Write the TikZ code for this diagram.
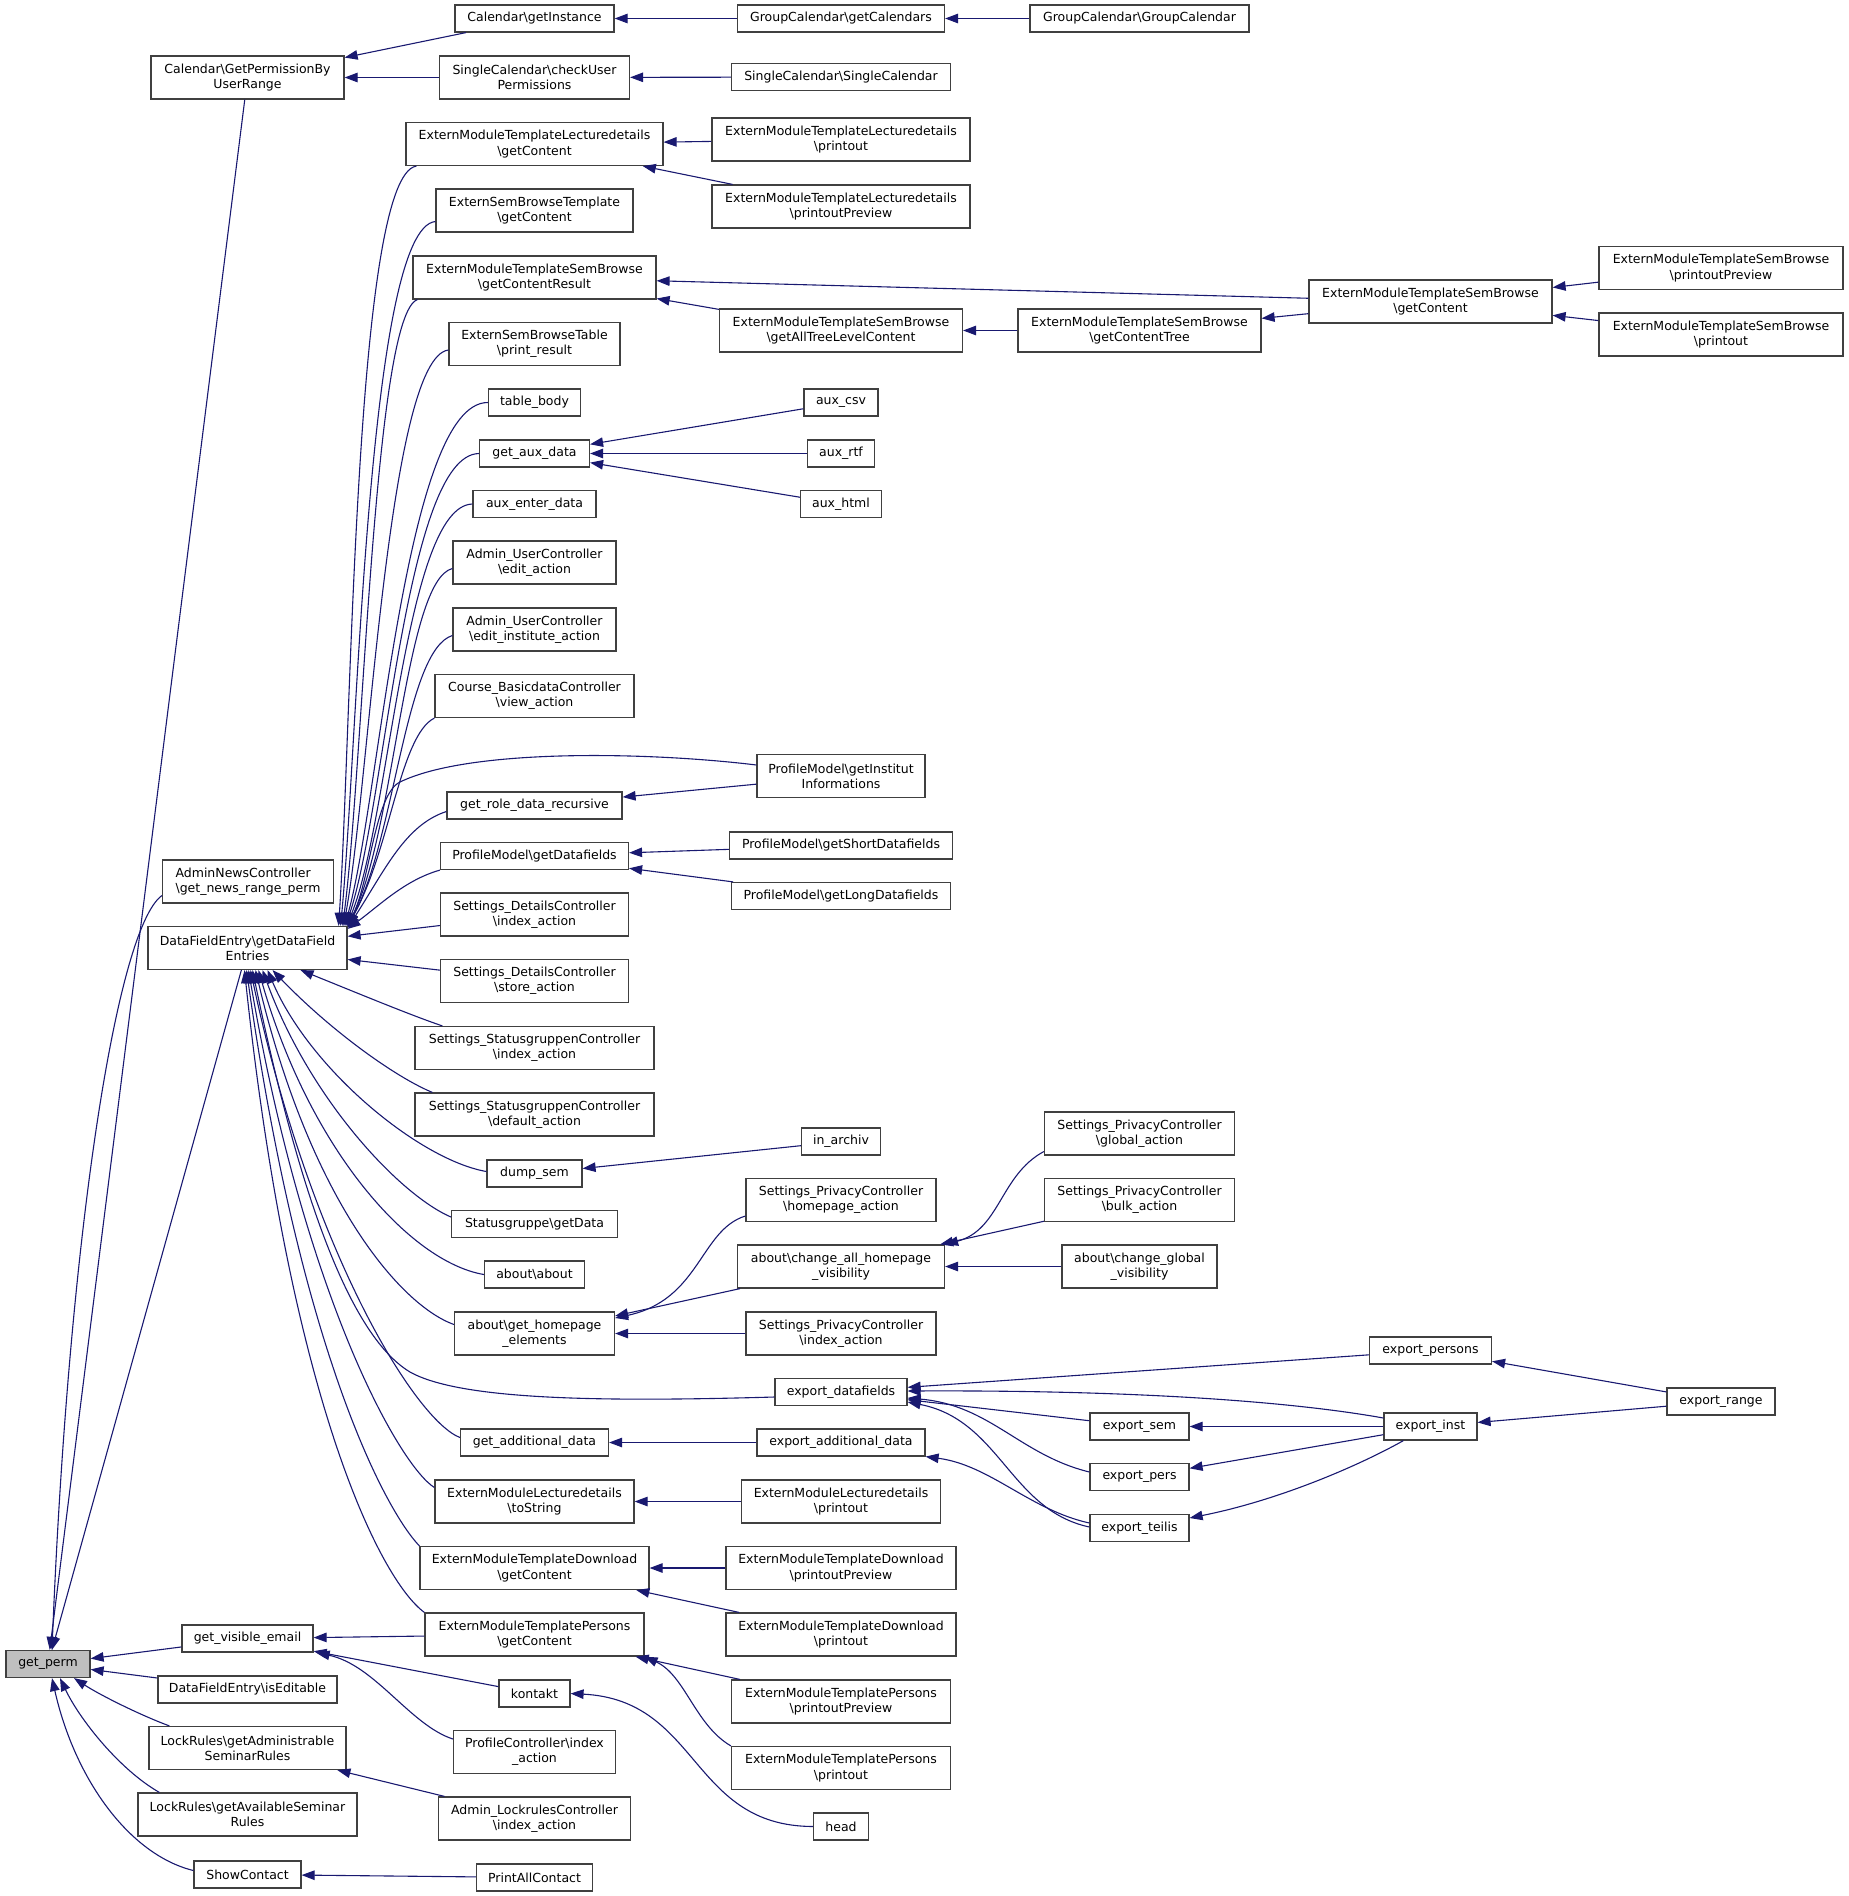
\documentclass[tikz,border=0pt]{standalone}
\usepackage{fontspec}
\setmainfont{DejaVu Sans}
\usetikzlibrary{arrows.meta}

\definecolor{midnight}{HTML}{191970}
\definecolor{rootgray}{HTML}{BFBFBF}

\begin{document}
\begin{tikzpicture}[%
    x=1pt,
    y=-1pt,
    ->,
    >={Triangle[length=13pt,width=9.5pt]},
    link/.style={%
      draw=midnight,
      line width=1.1pt
    },
    every edge/.style={link},
    fn/.style={%
      rectangle,
      draw=black!75,
      fill=white,
      line width=1.2pt,
      inner xsep=2pt,
      inner ysep=1pt,
      minimum height=27pt,
      align=center,
      font=\fontsize{12.5pt}{15.3pt}\selectfont
    },
    fnn/.style={%
      fn,
      minimum height=43pt
    }
  ]
    \useasboundingbox (0,0) rectangle (1848,1896);

    % column 1 and 2
    \node[fn, minimum width=84pt, fill=rootgray] (getperm)      at (48,1664)      {get\_perm};
    \node[fnn, minimum width=193pt] (getpermrange) at (247.5,77.5)  {Calendar\textbackslash{}GetPermissionBy\\UserRange};
    \node[fnn, minimum width=171pt, align=left] (newsrange) at (248,881.5) {AdminNewsController\\\textbackslash{}get\_news\_range\_perm};
    \node[fnn, minimum width=199pt] (dfentries)    at (247.5,948)   {DataFieldEntry\textbackslash{}getDataField\\Entries};
    \node[fn, minimum width=131pt]  (visemail)     at (247.5,1638.5) {get\_visible\_email};
    \node[fn, minimum width=179pt]  (iseditable)   at (247.5,1689.5) {DataFieldEntry\textbackslash{}isEditable};
    \node[fnn, minimum width=197pt] (lockadmin)    at (247.5,1748)  {LockRules\textbackslash{}getAdministrable\\SeminarRules};
    \node[fnn, minimum width=219pt] (lockavail)    at (247.5,1814.5) {LockRules\textbackslash{}getAvailableSeminar\\Rules};
    \node[fn, minimum width=107pt]  (showcontact)  at (247.5,1874.5) {ShowContact};

    % column 3
    \node[fn, minimum width=159pt]  (calinst)    at (534.5,18.5)   {Calendar\textbackslash{}getInstance};
    \node[fnn, minimum width=190pt] (checkperm)  at (534.5,77.5)   {SingleCalendar\textbackslash{}checkUser\\Permissions};
    \node[fnn, minimum width=257pt] (lecgc)      at (534.5,144)    {ExternModuleTemplateLecturedetails\\\textbackslash{}getContent};
    \node[fnn, minimum width=197pt] (sbtgc)      at (534.5,210.5)  {ExternSemBrowseTemplate\\\textbackslash{}getContent};
    \node[fnn, minimum width=243pt] (sbgcr)      at (534.5,277.5)  {ExternModuleTemplateSemBrowse\\\textbackslash{}getContentResult};
    \node[fnn, minimum width=171pt] (sbtprint)   at (534.5,344)    {ExternSemBrowseTable\\\textbackslash{}print\_result};
    \node[fn, minimum width=92pt]   (tablebody)  at (534.5,402.5)  {table\_body};
    \node[fn, minimum width=110pt]  (auxdata)    at (534.5,453.5)  {get\_aux\_data};
    \node[fn, minimum width=123pt]  (auxenter)   at (534.5,504)    {aux\_enter\_data};
    \node[fnn, minimum width=163pt] (ucedit)     at (534.5,562.5)  {Admin\_UserController\\\textbackslash{}edit\_action};
    \node[fnn, minimum width=163pt] (ucinst)     at (534.5,629.5)  {Admin\_UserController\\\textbackslash{}edit\_institute\_action};
    \node[fnn, minimum width=199pt] (cbview)     at (534.5,696)    {Course\_BasicdataController\\\textbackslash{}view\_action};
    \node[fn, minimum width=175pt]  (roledata)   at (534.5,805.5)  {get\_role\_data\_recursive};
    \node[fn, minimum width=188pt]  (pmdata)     at (534.5,856)    {ProfileModel\textbackslash{}getDatafields};
    \node[fnn, minimum width=188pt] (sdindex)    at (534.5,914.5)  {Settings\_DetailsController\\\textbackslash{}index\_action};
    \node[fnn, minimum width=188pt] (sdstore)    at (534.5,981)    {Settings\_DetailsController\\\textbackslash{}store\_action};
    \node[fnn, minimum width=239pt] (sgindex)    at (534.5,1048)   {Settings\_StatusgruppenController\\\textbackslash{}index\_action};
    \node[fnn, minimum width=239pt] (sgdefault)  at (534.5,1114.5) {Settings\_StatusgruppenController\\\textbackslash{}default\_action};
    \node[fn, minimum width=95pt]   (dumpsem)    at (534.5,1173.5) {dump\_sem};
    \node[fn, minimum width=166pt]  (sggetdata)  at (534.5,1224)   {Statusgruppe\textbackslash{}getData};
    \node[fn, minimum width=100pt]  (aboutabout) at (534.5,1274.5) {about\textbackslash{}about};
    \node[fnn, minimum width=160pt] (homeelem)   at (534.5,1333.5) {about\textbackslash{}get\_homepage\\\_elements};
    \node[fn, minimum width=148pt]  (adddata)    at (534.5,1442.5) {get\_additional\_data};
    \node[fnn, minimum width=199pt] (lectostr)   at (534.5,1501.5) {ExternModuleLecturedetails\\\textbackslash{}toString};
    \node[fnn, minimum width=229pt] (dlgc)       at (534.5,1568)   {ExternModuleTemplateDownload\\\textbackslash{}getContent};
    \node[fnn, minimum width=219pt] (persgc)     at (534.5,1634.5) {ExternModuleTemplatePersons\\\textbackslash{}getContent};
    \node[fn, minimum width=71pt]   (kontakt)    at (534.5,1693.5) {kontakt};
    \node[fnn, minimum width=162pt] (pcindex)    at (534.5,1752)   {ProfileController\textbackslash{}index\\\_action};
    \node[fnn, minimum width=192pt] (lrindex)    at (534.5,1818.5) {Admin\_LockrulesController\\\textbackslash{}index\_action};
    \node[fn, minimum width=116pt]  (printall)   at (534.5,1877.5) {PrintAllContact};

    % column 4
    \node[fn, minimum width=207pt]  (getcals)     at (841,18.5)   {GroupCalendar\textbackslash{}getCalendars};
    \node[fn, minimum width=219pt]  (singlecal)   at (841,77)     {SingleCalendar\textbackslash{}SingleCalendar};
    \node[fnn, minimum width=258pt] (lecprint)    at (841,139.5)  {ExternModuleTemplateLecturedetails\\\textbackslash{}printout};
    \node[fnn, minimum width=258pt] (lecpreview)  at (841,206.5)  {ExternModuleTemplateLecturedetails\\\textbackslash{}printoutPreview};
    \node[fnn, minimum width=243pt] (sballtree)   at (841,330.5)  {ExternModuleTemplateSemBrowse\\\textbackslash{}getAllTreeLevelContent};
    \node[fn, minimum width=74pt]   (auxcsv)      at (841,402.5)  {aux\_csv};
    \node[fn, minimum width=67pt]   (auxrtf)      at (841,453.5)  {aux\_rtf};
    \node[fn, minimum width=81pt]   (auxhtml)     at (841,504)    {aux\_html};
    \node[fnn, minimum width=168pt] (pminst)      at (841,776)    {ProfileModel\textbackslash{}getInstitut\\Informations};
    \node[fn, minimum width=223pt]  (pmshort)     at (841,845.5)  {ProfileModel\textbackslash{}getShortDatafields};
    \node[fn, minimum width=219pt]  (pmlong)      at (841,896)    {ProfileModel\textbackslash{}getLongDatafields};
    \node[fn, minimum width=79pt]   (inarchiv)    at (841,1141.5) {in\_archiv};
    \node[fnn, minimum width=190pt] (sphome)      at (841,1200)   {Settings\_PrivacyController\\\textbackslash{}homepage\_action};
    \node[fnn, minimum width=207pt] (chall)       at (841,1266.5) {about\textbackslash{}change\_all\_homepage\\\_visibility};
    \node[fnn, minimum width=190pt] (spindex)     at (841,1333.5) {Settings\_PrivacyController\\\textbackslash{}index\_action};
    \node[fn, minimum width=132pt]  (expdf)       at (841,1392)   {export\_datafields};
    \node[fn, minimum width=168pt]  (expadd)      at (841,1442.5) {export\_additional\_data};
    \node[fnn, minimum width=199pt] (lecprintout) at (841,1501.5) {ExternModuleLecturedetails\\\textbackslash{}printout};
    \node[fnn, minimum width=230pt] (dlpreview)   at (841,1568)   {ExternModuleTemplateDownload\\\textbackslash{}printoutPreview};
    \node[fnn, minimum width=230pt] (dlprint)     at (841,1634.5) {ExternModuleTemplateDownload\\\textbackslash{}printout};
    \node[fnn, minimum width=219pt] (perspreview) at (841,1701.5) {ExternModuleTemplatePersons\\\textbackslash{}printoutPreview};
    \node[fnn, minimum width=219pt] (persprint)   at (841,1768)   {ExternModuleTemplatePersons\\\textbackslash{}printout};
    \node[fn, minimum width=55pt]   (head)        at (841,1826.5) {head};

    % column 5, 6 and 7
    \node[fn, minimum width=219pt]  (groupcal)   at (1139.5,18.5)   {GroupCalendar\textbackslash{}GroupCalendar};
    \node[fnn, minimum width=243pt] (sbtree)     at (1139.5,330.5)  {ExternModuleTemplateSemBrowse\\\textbackslash{}getContentTree};
    \node[fnn, minimum width=190pt] (spglobal)   at (1139.5,1133.5) {Settings\_PrivacyController\\\textbackslash{}global\_action};
    \node[fnn, minimum width=190pt] (spbulk)     at (1139.5,1200)   {Settings\_PrivacyController\\\textbackslash{}bulk\_action};
    \node[fnn, minimum width=155pt] (chglobal)   at (1139.5,1266.5) {about\textbackslash{}change\_global\\\_visibility};
    \node[fn, minimum width=99pt]   (expsem)     at (1139.5,1426.5) {export\_sem};
    \node[fn, minimum width=99pt]   (exppers)    at (1139.5,1477)   {export\_pers};
    \node[fn, minimum width=99pt]   (expteilis)  at (1139.5,1528)   {export\_teilis};
    \node[fnn, minimum width=243pt] (sbgc)       at (1430.5,301.5)  {ExternModuleTemplateSemBrowse\\\textbackslash{}getContent};
    \node[fn, minimum width=122pt]  (exppersons) at (1430.5,1350.5) {export\_persons};
    \node[fn, minimum width=93pt]   (expinst)    at (1430.5,1426.5) {export\_inst};
    \node[fnn, minimum width=244pt] (sbpreview)  at (1721,268)      {ExternModuleTemplateSemBrowse\\\textbackslash{}printoutPreview};
    \node[fnn, minimum width=244pt] (sbprint)    at (1721,334.5)    {ExternModuleTemplateSemBrowse\\\textbackslash{}printout};
    \node[fn, minimum width=108pt]  (exprange)   at (1721,1401.5)   {export\_range};

    % straight calls
    \path (getpermrange) edge (getperm)
          (dfentries)    edge (getperm)
          (visemail)     edge (getperm)
          (iseditable)   edge (getperm)
          (calinst)      edge (getpermrange)
          (checkperm)    edge (getpermrange)
          (getcals)      edge (calinst)
          (groupcal)     edge (getcals)
          (singlecal)    edge (checkperm)
          (lecprint)     edge (lecgc)
          (lecpreview)   edge (lecgc)
          (sbgc)         edge (sbgcr)
          (sballtree)    edge (sbgcr)
          (sbtree)       edge (sballtree)
          (sbgc)         edge (sbtree)
          (sbpreview)    edge (sbgc)
          (sbprint)      edge (sbgc)
          (auxcsv)       edge (auxdata)
          (auxrtf)       edge (auxdata)
          (auxhtml)      edge (auxdata)
          (pminst)       edge (roledata)
          (pmshort)      edge (pmdata)
          (pmlong)       edge (pmdata)
          (sdindex)      edge (dfentries)
          (sdstore)      edge (dfentries)
          (inarchiv)     edge (dumpsem)
          (chall)        edge (homeelem)
          (spindex)      edge (homeelem)
          (spbulk)       edge (chall)
          (chglobal)     edge (chall)
          (exppersons)   edge (expdf)
          (expsem)       edge (expdf)
          (expinst)      edge (expsem)
          (expinst)      edge (exppers)
          (exprange)     edge (exppersons)
          (exprange)     edge (expinst)
          (expadd)       edge (adddata)
          (lecprintout)  edge (lectostr)
          (dlpreview)    edge (dlgc)
          (dlprint)      edge (dlgc)
          (perspreview)  edge (persgc)
          (persgc)       edge (visemail)
          (kontakt)      edge (visemail)
          (lrindex)      edge (lockadmin)
          (printall)     edge (showcontact);

    % curved calls into get_perm
    \draw[link] ([yshift=-14pt]newsrange.west) .. controls (115,930) and (68,1250) .. ([xshift=4pt]getperm.north);
    \draw[link] ([xshift=21pt]lockadmin.north west) .. controls (140,1715) and (100,1695) .. ([xshift=26pt]getperm.south);
    \draw[link] ([xshift=22pt]lockavail.north west) .. controls (120,1770) and (80,1720) .. ([xshift=12pt]getperm.south);
    \draw[link] ([yshift=4pt]showcontact.west) .. controls (130,1855) and (75,1780) .. ([xshift=4pt]getperm.south);

    % curved calls into DataFieldEntry from above
    \draw[link] ([xshift=11pt]lecgc.south west) .. controls (355,175) and (352,720) .. ([xshift=-9pt]dfentries.north east);
    \draw[link] ([yshift=-11pt]sbtgc.west) .. controls (368,228) and (358,740) .. ([xshift=-7pt]dfentries.north east);
    \draw[link] ([xshift=5pt]sbgcr.south west) .. controls (374,315) and (364,760) .. ([xshift=-5pt]dfentries.north east);
    \draw[link] ([yshift=-6pt]sbtprint.west) .. controls (388,358) and (370,780) .. ([xshift=-4pt]dfentries.north east);
    \draw[link] (tablebody.west) .. controls (405,402) and (380,800) .. ([xshift=-3pt]dfentries.north east);
    \draw[link] (auxdata.west) .. controls (405,455) and (386,805) .. ([xshift=-2pt]dfentries.north east);
    \draw[link] (auxenter.west) .. controls (405,506) and (390,820) .. ([xshift=-1pt]dfentries.north east);
    \draw[link] ([yshift=-6pt]ucedit.west) .. controls (405,580) and (395,830) .. (dfentries.north east);
    \draw[link] ([yshift=-6pt]ucinst.west) .. controls (405,650) and (395,840) .. (dfentries.north east);
    \draw[link] (cbview.south west) .. controls (400,735) and (390,850) .. (dfentries.north east);
    \draw[link] ([yshift=11pt]pminst.west) .. controls (650,752) and (470,748) .. (400,782)
                .. controls (375,794) and (370,880) .. (dfentries.north east);
    \draw[link] ([yshift=-6pt]roledata.west) .. controls (405,825) and (385,870) .. ([yshift=-2pt]dfentries.north east);
    \draw[link] (pmdata.south west) .. controls (405,880) and (380,905) .. ([yshift=-3pt]dfentries.north east);

    % curved calls into DataFieldEntry from below
    \draw[link] ([xshift=28pt]sgindex.north west) .. controls (410,1015) and (350,990) .. ([xshift=53pt]dfentries.south);
    \draw[link] ([xshift=18pt]sgdefault.north west) .. controls (395,1077) and (330,1030) .. ([xshift=25pt]dfentries.south);
    \draw[link] ([yshift=2pt]dumpsem.west) .. controls (420,1160) and (310,1070) .. ([xshift=20pt]dfentries.south);
    \draw[link] ([yshift=7pt]sggetdata.west) .. controls (400,1195) and (310,1100) .. ([xshift=15pt]dfentries.south);
    \draw[link] (aboutabout.west) .. controls (410,1262) and (310,1150) .. ([xshift=11pt]dfentries.south);
    \draw[link] ([yshift=9pt]homeelem.west) .. controls (400,1305) and (310,1200) .. ([xshift=8pt]dfentries.south);
    \draw[link] ([yshift=-5pt]expdf.west) .. controls (600,1402) and (460,1400) .. (410,1372)
                .. controls (340,1330) and (290,1150) .. ([xshift=5pt]dfentries.south);
    \draw[link] ([yshift=5pt]adddata.west) .. controls (415,1420) and (310,1250) .. ([xshift=3pt]dfentries.south);
    \draw[link] ([yshift=14pt]lectostr.west) .. controls (400,1466) and (305,1300) .. ([xshift=1pt]dfentries.south);
    \draw[link] (dlgc.north west) .. controls (385,1510) and (300,1350) .. ([xshift=-1pt]dfentries.south);
    \draw[link] (persgc.north west) .. controls (380,1580) and (290,1400) .. ([xshift=-3pt]dfentries.south);

    % other curved calls
    \draw[link] ([yshift=13pt]pcindex.west) .. controls (410,1725) and (375,1665) .. ([xshift=3pt]visemail.south east);
    \draw[link] ([yshift=-16pt]sphome.west) .. controls (700,1230) and (700,1300) .. ([yshift=15.5pt]homeelem.east);
    \draw[link] ([yshift=-18pt]spglobal.west) .. controls (1000,1175) and (1000,1230) .. (chall.north east);
    \draw[link] ([yshift=8.5pt]expinst.west) .. controls (1300,1403) and (1150,1390) .. ([yshift=1pt]expdf.east);
    \draw[link] ([yshift=5pt]exppers.west) .. controls (1020,1455) and (990,1405) .. ([yshift=-6pt]expdf.east);
    \draw[link] ([yshift=1pt]expteilis.west) .. controls (1010,1510) and (1000,1420) .. ([yshift=-10pt]expdf.east);
    \draw[link] ([yshift=5pt]expteilis.west) .. controls (1030,1510) and (990,1465) .. (expadd.south east);
    \draw[link] ([xshift=20pt]expinst.south west) .. controls (1360,1465) and (1280,1500) .. ([yshift=10pt]expteilis.east);
    \draw[link] (persprint.north west) .. controls (695,1725) and (685,1675) .. (persgc.south east);
    \draw[link] (head.west) .. controls (690,1826) and (700,1700) .. (kontakt.east);
\end{tikzpicture}
\end{document}
